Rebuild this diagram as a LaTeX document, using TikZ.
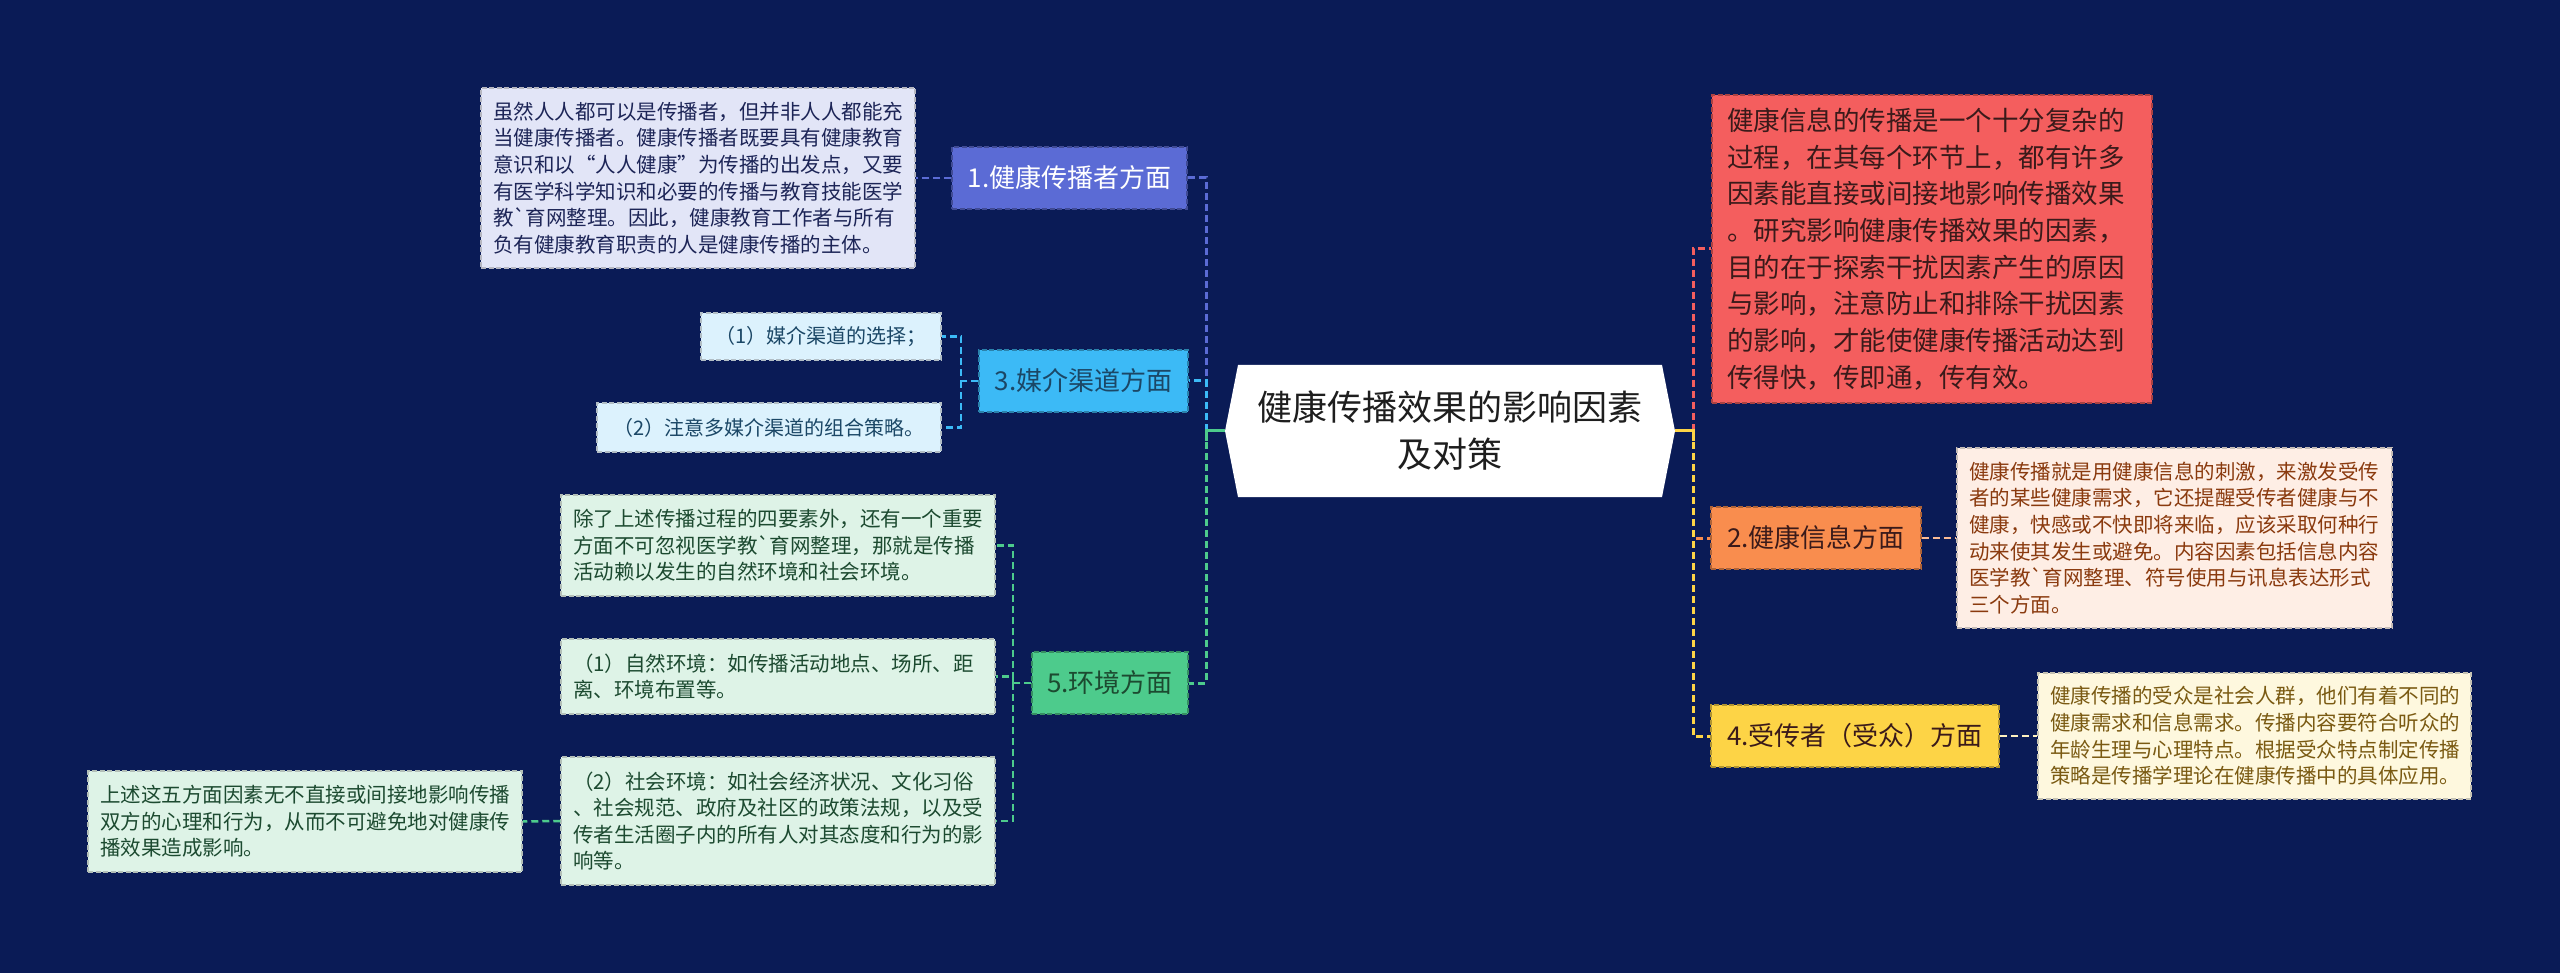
\documentclass[tikz,border=0pt]{standalone}
\usepackage{fontspec}
\usepackage{xcolor}
\usepackage{tikz}
\usetikzlibrary{calc,positioning}
\newfontfamily\cjk{Noto Sans CJK SC}
\definecolor{bgc}{HTML}{0A1B56}
\definecolor{deepc}{HTML}{1E1E1E}
\definecolor{onef}{HTML}{5B6BD5}
\definecolor{oned}{HTML}{E2E5F7}
\definecolor{onet}{HTML}{1D2557}
\definecolor{thrf}{HTML}{3CBAF6}
\definecolor{thrd}{HTML}{DCF2FD}
\definecolor{thrt}{HTML}{1B4766}
\definecolor{fivf}{HTML}{4DCB8C}
\definecolor{fivd}{HTML}{DEF3E7}
\definecolor{fivt}{HTML}{1C4A30}
\definecolor{redf}{HTML}{F45E5E}
\definecolor{redt}{HTML}{3A1A1A}
\definecolor{twof}{HTML}{F98D4E}
\definecolor{twod}{HTML}{FEEEE5}
\definecolor{twot}{HTML}{8A3A0E}
\definecolor{foupf}{HTML}{FDD446}
\definecolor{foud}{HTML}{FEF8DE}
\definecolor{fout}{HTML}{7A5A12}
\tikzset{
  ln/.style={line width=3pt,dash pattern=on 7pt off 4pt},
  subln/.style={line width=2.5pt,dash pattern=on 7pt off 4pt},
  stub/.style={line width=3pt},
  tp/.style={fill=#1,draw=#1!70!black,line width=1.5pt,dash pattern=on 5pt off 2.5pt,
    inner xsep=12pt,inner ysep=0pt,minimum height=62pt,font=\cjk\fontsize{26}{30}\selectfont},
  bx/.style={fill=#1,draw=#1!55!gray,line width=1.5pt,dash pattern=on 5pt off 2.5pt,
    inner xsep=12pt,inner ysep=0pt,align=left,font=\cjk\fontsize{20.5}{26.6}\selectfont},
  cnode/.style={fill=bgc,minimum width=450pt,minimum height=132pt,align=center,text=deepc,
    font=\cjk\fontsize{35}{47}\selectfont,
    path picture={\fill[white] ([xshift=13pt]path picture bounding box.north west)
      -- ([xshift=-13pt]path picture bounding box.north east) -- (path picture bounding box.east)
      -- ([xshift=-13pt]path picture bounding box.south east) -- ([xshift=13pt]path picture bounding box.south west)
      -- (path picture bounding box.west) -- cycle;}}
}

\begin{document}
\begin{tikzpicture}[x=1pt,y=-1pt]
\useasboundingbox (0,0) rectangle (2560,973);
\fill[bgc] (0,0) rectangle (2560,973);
\node[cnode] (cn) at (1450,431) {健康传播效果的影响因素\\及对策};

\node[tp=onef,text=white,minimum width=235pt] (n1) at (1069.5,178) {1.健康传播者方面};
\node[tp=thrf,text=thrt,minimum width=209pt] (n3) at (1083.5,381) {3.媒介渠道方面};
\node[tp=fivf,text=fivt,minimum width=156pt] (n5) at (1110,683) {5.环境方面};
\node[tp=redf,text=redt,minimum width=440pt,minimum height=308pt,text width=410pt,align=left,
  inner xsep=15pt,font=\cjk\fontsize{26.5}{36.7}\selectfont] (rd) at (1932,249)
  {健康信息的传播是一个十分复杂的\\过程，在其每个环节上，都有许多\\因素能直接或间接地影响传播效果\\。研究影响健康传播效果的因素，\\目的在于探索干扰因素产生的原因\\与影响，注意防止和排除干扰因素\\的影响，才能使健康传播活动达到\\传得快，传即通，传有效。};
\node[tp=twof,text=redt,minimum width=210pt] (n2) at (1816,538) {2.健康信息方面};
\node[tp=foupf,text=redt,minimum width=288pt] (n4) at (1855,736) {4.受传者（受众）方面};

\node[bx=oned,text=onet,text width=410pt,minimum height=180pt] (d1) at (698,178)
  {虽然人人都可以是传播者，但并非人人都能充\\当健康传播者。健康传播者既要具有健康教育\\意识和以“人人健康”为传播的出发点，又要\\有医学科学知识和必要的传播与教育技能医学\\教\textasciigrave{}育网整理。因此，健康教育工作者与所有\\负有健康教育职责的人是健康传播的主体。};
\node[bx=thrd,text=thrt,align=center,minimum width=240pt,minimum height=47pt,
  font=\cjk\fontsize{20}{26}\selectfont] (it1) at (821,336.5) {（1）媒介渠道的选择；};
\node[bx=thrd,text=thrt,align=center,minimum width=344pt,minimum height=49pt,
  font=\cjk\fontsize{20}{26}\selectfont] (it2) at (769,427.5) {（2）注意多媒介渠道的组合策略。};
\node[bx=fivd,text=fivt,text width=410pt,minimum height=101pt] (e1) at (778,545.5)
  {除了上述传播过程的四要素外，还有一个重要\\方面不可忽视医学教\textasciigrave{}育网整理，那就是传播\\活动赖以发生的自然环境和社会环境。};
\node[bx=fivd,text=fivt,text width=410pt,minimum height=75pt] (e2) at (778,676.5)
  {（1）自然环境：如传播活动地点、场所、距\\离、环境布置等。};
\node[bx=fivd,text=fivt,text width=410pt,minimum height=128pt] (e3) at (778,821)
  {（2）社会环境：如社会经济状况、文化习俗\\、社会规范、政府及社区的政策法规，以及受\\传者生活圈子内的所有人对其态度和行为的影\\响等。};
\node[bx=fivd,text=fivt,text width=410pt,minimum height=101pt] (sm) at (305,821.5)
  {上述这五方面因素无不直接或间接地影响传播\\双方的心理和行为，从而不可避免地对健康传\\播效果造成影响。};
\node[bx=twod,text=twot,text width=411pt,minimum height=180pt] (d2) at (2174.5,538)
  {健康传播就是用健康信息的刺激，来激发受传\\者的某些健康需求，它还提醒受传者健康与不\\健康，快感或不快即将来临，应该采取何种行\\动来使其发生或避免。内容因素包括信息内容\\医学教\textasciigrave{}育网整理、符号使用与讯息表达形式\\三个方面。};
\node[bx=foud,text=fout,text width=409pt,minimum height=126pt] (d4) at (2254.5,736)
  {健康传播的受众是社会人群，他们有着不同的\\健康需求和信息需求。传播内容要符合听众的\\年龄生理与心理特点。根据受众特点制定传播\\策略是传播学理论在健康传播中的具体应用。};

\coordinate (jl) at (1206,431);
\coordinate (jr) at (1693,431);
\coordinate (j3) at (961,381);
\coordinate (j5) at (1013,683);
\draw[ln,onef] (jl) |- (n1.east);
\draw[ln,thrf] (jl) |- (n3.east);
\draw[ln,fivf] (jl) |- (n5.east);
\draw[stub,fivf] (cn.west) -- (jl) -- ++(0,10);
\draw[ln,redf] (jr) |- (rd.west);
\draw[ln,twof] (jr) |- (n2.west);
\draw[ln,foupf] (jr) |- (n4.west);
\draw[stub,foupf] (cn.east) -- (jr) -- ++(0,10);

\draw[subln,onef] (n1.west) -- (d1.east);
\draw[subln,thrf] (n3.west) -- (j3) |- (it1.east);
\draw[subln,thrf] (j3) |- (it2.east);
\draw[subln,fivf] (n5.west) -- (j5) |- (e1.east);
\draw[subln,fivf] (j5) |- (e2.east);
\draw[subln,fivf] (j5) |- (e3.east);
\draw[subln,fivf] (e3.west) -- (sm.east);
\draw[subln,twof!60!white] (n2.east) -- (d2.west);
\draw[subln,foud!80!foupf] (n4.east) -- (d4.west);
\end{tikzpicture}
\end{document}
